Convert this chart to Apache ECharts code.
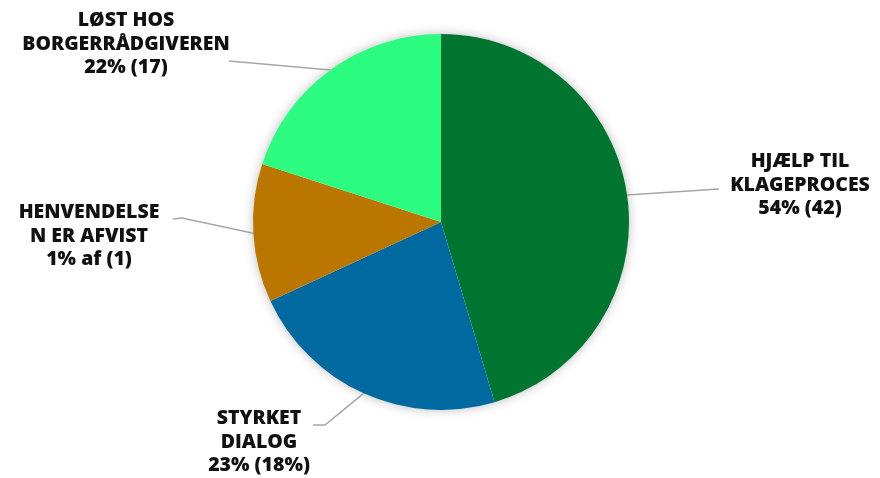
<!DOCTYPE html>
<html>
<head>
<meta charset="utf-8">
<style>
  html, body { margin: 0; padding: 0; background: #ffffff; }
  #chart { width: 880px; height: 478px; }
</style>
<script src="https://cdn.jsdelivr.net/npm/echarts@6/dist/echarts.min.js"></script>
</head>
<body>
<div id="chart"></div>
<script>
// Slice categories, clockwise from 12 o'clock
const categories = [
  'HJÆLP TIL KLAGEPROCES',
  'STYRKET DIALOG',
  'HENVENDELSE ER AFVIST',
  'LØST HOS BORGERRÅDGIVEREN'
];
// Slice sizes (share of the circle, in percent)
const sliceValues = [45.4, 22.7, 11.9, 20.0];
// Label texts as written on the chart
const labelTexts = [
  'HJÆLP TIL\nKLAGEPROCES\n54% (42)',
  'STYRKET\nDIALOG\n23% (18%)',
  'HENVENDELSE\nN ER AFVIST\n1% af (1)',
  'LØST HOS\nBORGERRÅDGIVEREN\n22% (17)'
];
const sliceColors = ['#00752f', '#0069a0', '#bb7600', '#2cfd80'];

// Where each label block sits and how its leader line bends
const labelPlacement = [
  { x: 800, y: 185, line: [[719, 189]] },
  { x: 259, y: 442, line: [[325, 425], [313, 425]] },
  { x: 89,  y: 236, line: [[182, 218], [173, 219]] },
  { x: 126, y: 44,  line: [[229, 61]] }
];

const CENTER = [441, 222];
const RADIUS = 188;

const chart = echarts.init(document.getElementById('chart'), null, { renderer: 'canvas' });

chart.setOption({
  backgroundColor: '#ffffff',
  animation: false,
  series: [
    {
      // soft halo behind the whole disc (kept off the slice seams)
      type: 'pie',
      silent: true,
      z: 1,
      center: CENTER,
      radius: RADIUS - 1,
      label: { show: false },
      labelLine: { show: false },
      data: [{ value: 1, name: '' }],
      itemStyle: {
        color: '#ffffff',
        shadowBlur: 12,
        shadowColor: 'rgba(0,0,0,0.30)'
      },
      emphasis: { disabled: true }
    },
    {
      type: 'pie',
      z: 2,
      center: CENTER,
      radius: RADIUS,
      startAngle: 90,
      clockwise: true,
      avoidLabelOverlap: false,
      data: categories.map((name, i) => ({
        name: name,
        value: sliceValues[i],
        itemStyle: { color: sliceColors[i] },
        label: { formatter: labelTexts[i] }
      })),
      itemStyle: { borderWidth: 0 },
      label: {
        show: true,
        position: 'outside',
        color: '#111111',
        fontFamily: 'Open Sans',
        fontWeight: 800,
        fontSize: 19.5,
        lineHeight: 23.5,
        align: 'center'
      },
      labelLine: {
        show: true,
        length: 20,
        length2: 10,
        lineStyle: { color: '#a6a6a6', width: 1.5 }
      },
      emphasis: { disabled: true },
      labelLayout: function (params) {
        const p = labelPlacement[params.dataIndex];
        const start = params.labelLinePoints ? params.labelLinePoints[0] : null;
        const pts = start ? [start].concat(p.line) : undefined;
        if (pts && pts.length === 2) pts.push(p.line[0]);
        return {
          x: p.x,
          y: p.y,
          align: 'center',
          verticalAlign: 'middle',
          labelLinePoints: pts
        };
      }
    }
  ]
});
</script>
</body>
</html>
